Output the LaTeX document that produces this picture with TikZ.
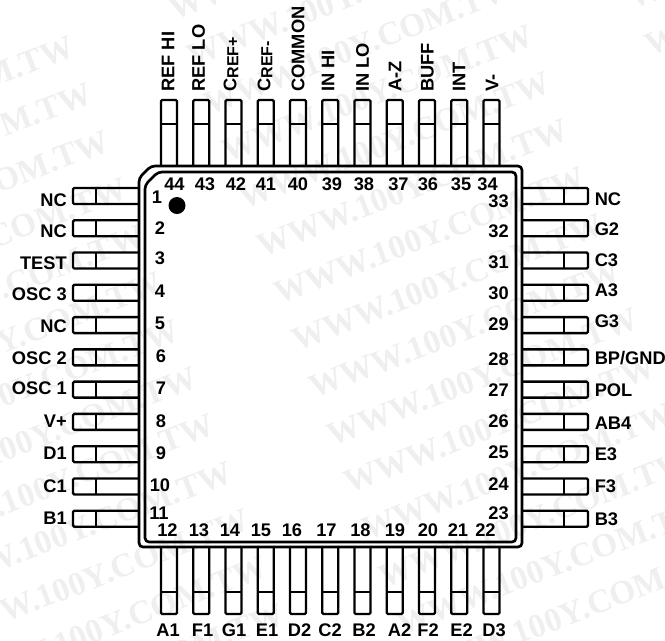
\documentclass[tikz,border=0pt]{standalone}
\usepackage{fontspec}
\setmainfont{Liberation Sans}
\newfontfamily\markfont{Liberation Serif}
\definecolor{markgray}{HTML}{EFEFEF}
\tikzset{
  pin/.style={line width=1.75pt, rounded corners=1pt},
  body/.style={line width=2pt, rounded corners=3pt},
  pinlabel/.style={font=\fontsize{13.7}{15}\selectfont\bfseries, inner sep=0pt},
  pinnum/.style={font=\fontsize{13.7}{15}\selectfont\bfseries, inner sep=0pt},
  wmark/.style={font=\fontsize{25}{27}\selectfont\markfont\bfseries, text=markgray, inner sep=0pt, anchor=west, rotate=21}
}
\newcommand{\capref}[1]{C{\fontsize{12}{13}\selectfont\raisebox{-1.5pt}{#1}}}
\begin{document}
\begin{tikzpicture}[x=0.75pt,y=-0.75pt]
  \useasboundingbox (0,0) rectangle (665,640);

  % Faint lettering behind the drawing
  \begin{scope}
    \clip (0,0) rectangle (665,640);
    \foreach \c/\rlo/\rhi in {-1/-1/11,0/-5/9,1/-6/-5} {
      \foreach \r in {\rlo,...,\rhi} {
        \node[wmark] (mark\c\r) at (258+476*\c+17.5*\r,247+36*\c+47.3*\r) {WWW.100Y.COM.TW};
      }
    }
  \end{scope}

  % Draw the package body, outer and inner outline
  \draw[body] (139,178) -- (151,166) -- (522,166) -- (522,547) -- (139,547) -- cycle;
  \draw[body] (145,185) -- (158,172) -- (516,172) -- (516,542) -- (145,542) -- cycle;

  % Top and bottom pins
  \foreach \i in {0,...,10} {
    \draw[pin] (161+32.25*\i,166) -- (161+32.25*\i,100) -- (177+32.25*\i,100) -- (177+32.25*\i,166);
    \draw[pin] (161+32.25*\i,124) -- (177+32.25*\i,124);
    \draw[pin] (161+32.25*\i,547) -- (161+32.25*\i,614) -- (177+32.25*\i,614) -- (177+32.25*\i,547);
    \draw[pin] (161+32.25*\i,592) -- (177+32.25*\i,592);
  }

  % Left and right pins
  \foreach \i in {0,...,10} {
    \draw[pin] (139,188+32.27*\i) -- (73,188+32.27*\i) -- (73,204+32.27*\i) -- (139,204+32.27*\i);
    \draw[pin] (96,188+32.27*\i) -- (96,204+32.27*\i);
    \draw[pin] (522,188+32.27*\i) -- (588,188+32.27*\i) -- (588,204+32.27*\i) -- (522,204+32.27*\i);
    \draw[pin] (564,188+32.27*\i) -- (564,204+32.27*\i);
  }

  % Pin one mark
  \fill (177,205.5) circle (8.5);

  % Pin names
  \foreach \name/\py [count=\i] in {NC/200,NC/231.5,TEST/263,OSC 3/294,NC/326.5,OSC 2/358,OSC 1/388.5,V+/421,D1/453.5,C1/486,B1/518}
    \node[pinlabel, anchor=east] (left\i) at (67,\py) {\name};
  \foreach \name/\py [count=\i] in {NC/199.5,G2/229.5,C3/260.5,A3/290.5,G3/321.5,{BP/GND}/358,POL/390.5,AB4/423,E3/454,F3/486,B3/519.5}
    \node[pinlabel, anchor=west] (right\i) at (594.5,\py) {\name};
  \foreach \name/\px [count=\i] in {REF HI/168,REF LO/198.5,\capref{REF+}/231,\capref{REF-}/265,COMMON/298,IN HI/328,IN LO/362.5,A-Z/395,BUFF/427.5,INT/459,V-/492}
    \node[pinlabel, anchor=west, rotate=90] (top\i) at (\px,92) {\name};
  \foreach \name/\px [count=\i] in {A1/168,F1/202.5,G1/234,E1/267,D2/299.5,C2/330,B2/364,A2/399.5,F2/428,E2/461.5,D3/494}
    \node[pinlabel] (bot\i) at (\px,630.5) {\name};

  % Pin numbers inside the body
  \foreach \n/\px/\py in {44/174.5/184,43/205/184,42/236/184,41/266/184,40/298/184,39/332/184,38/364/184,37/398.5/184,36/428/184,35/461/184,34/487.5/184,
      1/157/197,2/160/228,3/160/258,4/160/291,5/160/323.5,6/161/356.5,7/161/388.5,8/161/421,9/161/453.5,10/160/485.5,11/159/513,
      12/167.5/530,13/199/530,14/230/530,15/261/530,16/292/530,17/326.5/530,18/360.5/530,19/395/530,20/428/530,21/458/530,22/485.5/530,
      33/498.5/201,32/498.5/231.5,31/498.5/262.5,30/498.5/293.5,29/498.5/324.5,28/498.5/359.5,27/498.5/390,26/498.5/421,25/498.5/452.5,24/498.5/484.5,23/498.5/513.5}
    \node[pinnum] (num\n) at (\px,\py) {\n};
\end{tikzpicture}
\end{document}
